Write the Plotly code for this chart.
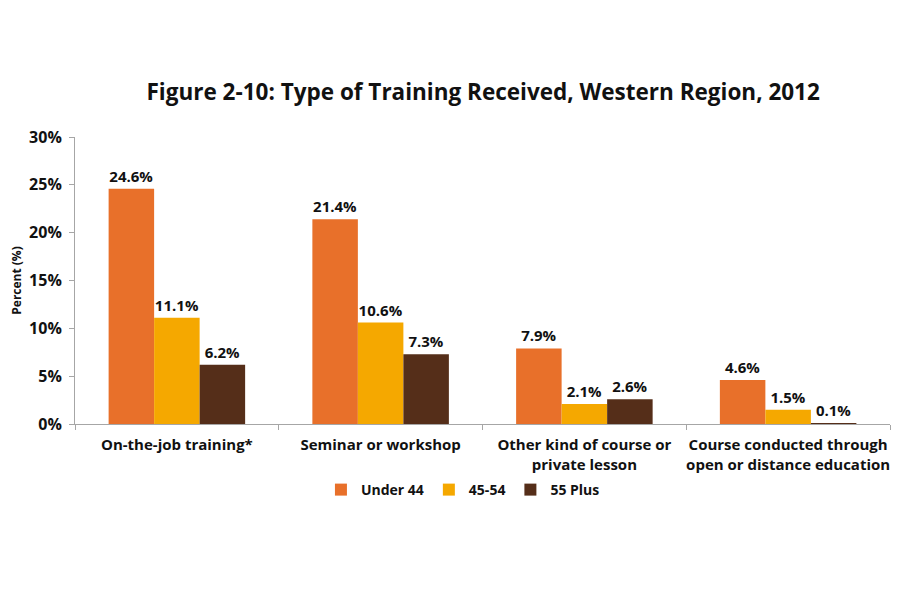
import plotly.graph_objects as go

categories = [
    "On-the-job training*",
    "Seminar or workshop",
    "Other kind of course or<br>private lesson",
    "Course conducted through<br>open or distance education",
]
under_44 = [24.6, 21.4, 7.9, 4.6]
age_45_54 = [11.1, 10.6, 2.1, 1.5]
plus_55 = [6.2, 7.3, 2.6, 0.1]
y_ticks = [0, 5, 10, 15, 20, 25, 30]

series = [
    ("Under 44", under_44, "#E8702A"),
    ("45-54", age_45_54, "#F5A800"),
    ("55 Plus", plus_55, "#552E19"),
]

fig = go.Figure()
for name, vals, color in series:
    fig.add_trace(go.Bar(
        x=categories, y=vals, name=name,
        marker=dict(color=color, line=dict(width=0)),
        text=[f"{v:.1f}%" for v in vals],
        textposition="outside",
        textfont=dict(family="Open Sans", size=15, color="#111111", weight="bold"),
        cliponaxis=False,
    ))

fig.update_layout(
    width=900, height=600,
    barmode="group", bargap=0.33, bargroupgap=0,
    plot_bgcolor="white", paper_bgcolor="white",
    font=dict(family="Open Sans", color="#111111"),
    title=dict(
        text="Figure 2-10: Type of Training Received, Western Region, 2012",
        x=0.528, xanchor="center", y=0.86, yanchor="middle",
        font=dict(size=22.5, weight="bold", color="#111111"),
    ),
    margin=dict(l=67, r=18, t=129, b=184),
    showlegend=True,
    legend=dict(
        orientation="h", x=0.476, xanchor="center", y=-0.23, yanchor="middle",
        font=dict(size=14, weight="bold"), traceorder="normal",
        itemwidth=30,
    ),
    uniformtext=dict(mode=False),
)
fig.update_yaxes(
    range=[0, 30], tickvals=y_ticks, ticktext=[f"{t}%" for t in y_ticks],
    showgrid=False, zeroline=False,
    showline=True, linecolor="#A6A6A6", linewidth=1,
    ticks="outside", ticklen=5, tickcolor="#A6A6A6",
    tickfont=dict(size=16, weight="bold"), ticklabelstandoff=4,
    title=dict(text="Percent (%)", font=dict(size=12, weight="bold"), standoff=4),
    automargin=False,
)
fig.update_xaxes(
    showline=True, linecolor="#A6A6A6", linewidth=1,
    ticks="outside", ticklen=5, tickcolor="#A6A6A6", tickson="boundaries",
    tickfont=dict(size=15, weight="bold"), tickangle=0, ticklabelstandoff=7,
    showgrid=False, automargin=False,
)

fig.write_html("out.html")
